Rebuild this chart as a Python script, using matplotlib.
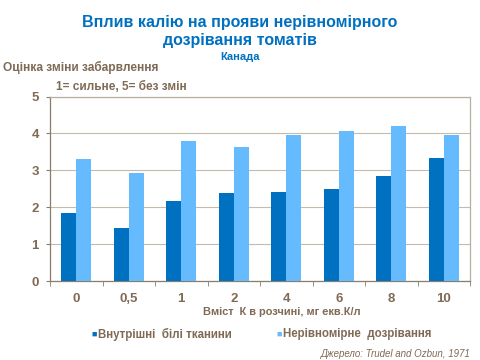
import numpy as np
import matplotlib
matplotlib.use("Agg")
import matplotlib.pyplot as plt

plt.rcParams['font.family'] = ['Liberation Sans', 'DejaVu Sans']

# дані
categories = ["0", "0,5", "1", "2", "4", "6", "8", "10"]
white_tissue = [1.84, 1.44, 2.17, 2.39, 2.41, 2.50, 2.85, 3.34]
uneven_ripening = [3.31, 2.93, 3.80, 3.63, 3.96, 4.07, 4.20, 3.96]
series_names = ["Внутрішні  білі тканини", "Нерівномірне  дозрівання"]

dark = "#0070C0"
light = "#66BBFF"
txt = "#7F6A55"
edge = "#8B7D6B"
box = "#B8AFA5"

fig = plt.figure(figsize=(4.8, 3.6), dpi=100)
ax = fig.add_axes([50/480, 1-281/360, 420/480, 184.5/360])

x = np.arange(len(categories))
w = 0.286
ax.bar(x - w/2, white_tissue, w, color=dark, zorder=3)
ax.bar(x + w/2, uneven_ripening, w, color=light, zorder=3)

ax.set_xlim(-0.5, len(categories) - 0.5)
ax.set_ylim(0, 5)
ax.set_yticks(range(6))
ax.yaxis.grid(True, color="#C4BAAE", lw=0.8, zorder=0)

ax.set_xticks(x)
ax.set_xticklabels(categories)
ax.set_xticks(np.arange(-0.5, len(categories)), minor=True)
ax.tick_params(axis='x', which='major', length=0, pad=9)
ax.tick_params(axis='x', which='minor', length=3.5, color=edge, direction='out')
ax.tick_params(axis='y', length=3, color=edge, pad=5)
for lab in ax.get_xticklabels() + ax.get_yticklabels():
    lab.set_color(txt)
    lab.set_fontsize(9.5)
    lab.set_fontweight('bold')

for s in ["top", "right"]:
    ax.spines[s].set_color(box)
    ax.spines[s].set_linewidth(0.9)
for s in ["left", "bottom"]:
    ax.spines[s].set_color(edge)
    ax.spines[s].set_linewidth(0.9)

fig.text(0.5, 1-22/360, "Вплив калію на прояви нерівномірного", ha='center', va='center',
         fontsize=11.5, fontweight='bold', color=dark)
fig.text(0.5, 1-41/360, "дозрівання томатів", ha='center', va='center',
         fontsize=11.5, fontweight='bold', color=dark)
fig.text(0.5, 1-57/360, "Канада", ha='center', va='center',
         fontsize=8, fontweight='bold', color=dark)
fig.text(3/480, 1-67/360, "Оцінка зміни забарвлення", ha='left', va='center',
         fontsize=8.6, fontweight='bold', color=txt)
fig.text(56/480, 1-87/360, "1= сильне, 5= без змін", ha='left', va='center',
         fontsize=8.5, fontweight='bold', color=txt)
fig.text(282/480, 1-312/360, "Вміст  К в розчині, мг екв.К/л", ha='center', va='center',
         fontsize=7.9, fontweight='bold', color=txt)

# легенда
fig.text(91/480, 1-334/360, "■", ha='left', va='center', fontsize=6.5, color=dark)
fig.text(98/480, 1-334/360, series_names[0], ha='left', va='center',
         fontsize=8.3, fontweight='bold', color=txt)
fig.text(276/480, 1-334/360, "■", ha='left', va='center', fontsize=6.5, color=light)
fig.text(283/480, 1-334/360, series_names[1], ha='left', va='center',
         fontsize=8.3, fontweight='bold', color=txt)

fig.text(471/480, 1-354/360, "Джерело: Trudel and Ozbun, 1971", ha='right', va='center',
         fontsize=7, style='italic', color=txt)

fig.savefig("out.png", dpi=100)
